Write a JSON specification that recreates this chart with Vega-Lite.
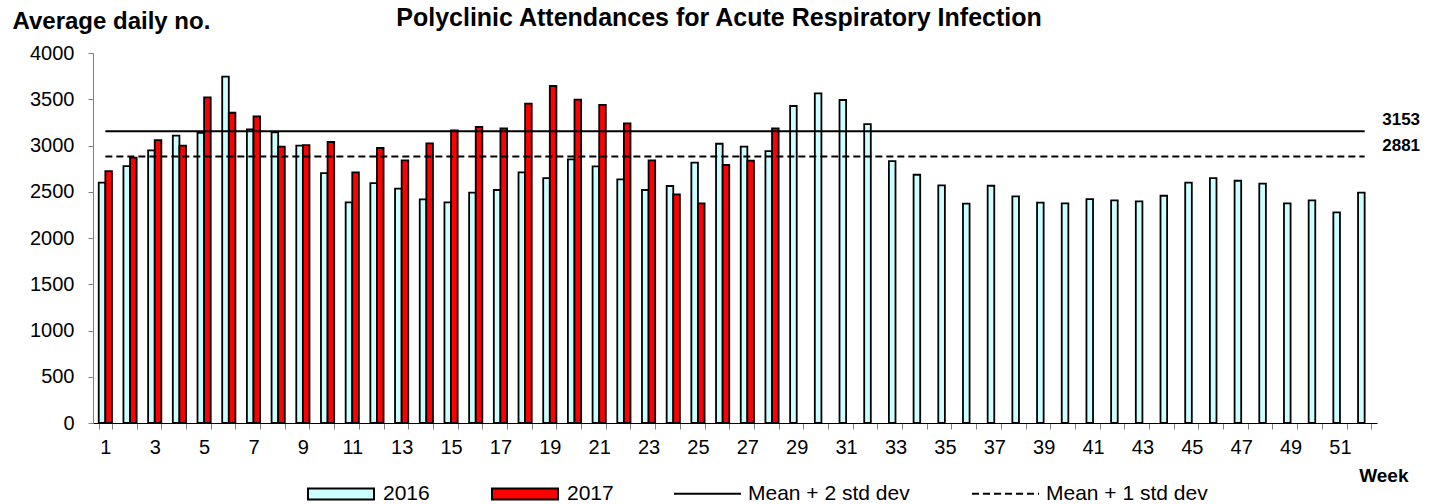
{
  "$schema": "https://vega.github.io/schema/vega-lite/v6.json",
  "width": 1284,
  "height": 370,
  "autosize": {"type": "none"},
  "padding": {"left": 93, "top": 53, "right": 52, "bottom": 81},
  "background": "white",
  "title": {
    "text": "Polyclinic Attendances for Acute Respiratory Infection",
    "font": "Liberation Sans",
    "fontSize": 25,
    "fontWeight": "bold",
    "color": "black",
    "anchor": "middle",
    "frame": "group",
    "offset": 0,
    "dx": -16,
    "dy": 22
  },
  "config": {"view": {"stroke": null}, "font": "Liberation Sans"},
  "datasets": {
    "weekly": [
      {"week": 1, "year": "2016", "value": 2598}, {"week": 1, "year": "2017", "value": 2724},
      {"week": 2, "year": "2016", "value": 2778}, {"week": 2, "year": "2017", "value": 2868},
      {"week": 3, "year": "2016", "value": 2948}, {"week": 3, "year": "2017", "value": 3059},
      {"week": 4, "year": "2016", "value": 3106}, {"week": 4, "year": "2017", "value": 2998},
      {"week": 5, "year": "2016", "value": 3138}, {"week": 5, "year": "2017", "value": 3521},
      {"week": 6, "year": "2016", "value": 3744}, {"week": 6, "year": "2017", "value": 3354},
      {"week": 7, "year": "2016", "value": 3175}, {"week": 7, "year": "2017", "value": 3315},
      {"week": 8, "year": "2016", "value": 3142}, {"week": 8, "year": "2017", "value": 2987},
      {"week": 9, "year": "2016", "value": 2998}, {"week": 9, "year": "2017", "value": 3005},
      {"week": 10, "year": "2016", "value": 2702}, {"week": 10, "year": "2017", "value": 3038},
      {"week": 11, "year": "2016", "value": 2386}, {"week": 11, "year": "2017", "value": 2710},
      {"week": 12, "year": "2016", "value": 2594}, {"week": 12, "year": "2017", "value": 2973},
      {"week": 13, "year": "2016", "value": 2533}, {"week": 13, "year": "2017", "value": 2840},
      {"week": 14, "year": "2016", "value": 2418}, {"week": 14, "year": "2017", "value": 3023},
      {"week": 15, "year": "2016", "value": 2386}, {"week": 15, "year": "2017", "value": 3164},
      {"week": 16, "year": "2016", "value": 2490}, {"week": 16, "year": "2017", "value": 3200},
      {"week": 17, "year": "2016", "value": 2519}, {"week": 17, "year": "2017", "value": 3186},
      {"week": 18, "year": "2016", "value": 2710}, {"week": 18, "year": "2017", "value": 3452},
      {"week": 19, "year": "2016", "value": 2648}, {"week": 19, "year": "2017", "value": 3643},
      {"week": 20, "year": "2016", "value": 2851}, {"week": 20, "year": "2017", "value": 3495},
      {"week": 21, "year": "2016", "value": 2775}, {"week": 21, "year": "2017", "value": 3438},
      {"week": 22, "year": "2016", "value": 2634}, {"week": 22, "year": "2017", "value": 3240},
      {"week": 23, "year": "2016", "value": 2519}, {"week": 23, "year": "2017", "value": 2840},
      {"week": 24, "year": "2016", "value": 2562}, {"week": 24, "year": "2017", "value": 2472},
      {"week": 25, "year": "2016", "value": 2814}, {"week": 25, "year": "2017", "value": 2375},
      {"week": 26, "year": "2016", "value": 3019}, {"week": 26, "year": "2017", "value": 2789},
      {"week": 27, "year": "2016", "value": 2987}, {"week": 27, "year": "2017", "value": 2836},
      {"week": 28, "year": "2016", "value": 2940}, {"week": 28, "year": "2017", "value": 3186},
      {"week": 29, "year": "2016", "value": 3427},
      {"week": 30, "year": "2016", "value": 3564},
      {"week": 31, "year": "2016", "value": 3492},
      {"week": 32, "year": "2016", "value": 3232},
      {"week": 33, "year": "2016", "value": 2832},
      {"week": 34, "year": "2016", "value": 2684},
      {"week": 35, "year": "2016", "value": 2569},
      {"week": 36, "year": "2016", "value": 2371},
      {"week": 37, "year": "2016", "value": 2565},
      {"week": 38, "year": "2016", "value": 2450},
      {"week": 39, "year": "2016", "value": 2382},
      {"week": 40, "year": "2016", "value": 2375},
      {"week": 41, "year": "2016", "value": 2421},
      {"week": 42, "year": "2016", "value": 2407},
      {"week": 43, "year": "2016", "value": 2397},
      {"week": 44, "year": "2016", "value": 2457},
      {"week": 45, "year": "2016", "value": 2598},
      {"week": 46, "year": "2016", "value": 2648},
      {"week": 47, "year": "2016", "value": 2619},
      {"week": 48, "year": "2016", "value": 2587},
      {"week": 49, "year": "2016", "value": 2375},
      {"week": 50, "year": "2016", "value": 2407},
      {"week": 51, "year": "2016", "value": 2278},
      {"week": 52, "year": "2016", "value": 2490}
    ],
    "thresholds": [
      {"series": "Mean + 2 std dev", "value": 3153, "week": 1, "endWeek": 52},
      {"series": "Mean + 1 std dev", "value": 2881, "week": 1, "endWeek": 52}
    ]
  },
  "layer": [
    {
      "data": {"name": "weekly"},
      "mark": {"type": "bar", "stroke": "black", "strokeWidth": 1.8},
      "encoding": {
        "x": {
          "field": "week",
          "type": "ordinal",
          "scale": {"paddingInner": 0.465, "paddingOuter": 0.2325},
          "axis": {
            "title": "Week",
            "titleX": 1315,
            "titleY": 58,
            "titleAlign": "right",
            "titleBaseline": "alphabetic",
            "titleFontSize": 19,
            "titleFontWeight": "bold",
            "titleColor": "black",
            "titleFont": "Liberation Sans",
            "labelAngle": 0,
            "labelExpr": "datum.value % 2 == 1 ? datum.label : ''",
            "labelOverlap": false,
            "tickBand": "extent",
            "tickSize": 6,
            "tickColor": "#808080",
            "domainColor": "black",
            "labelFontSize": 20,
            "labelFont": "Liberation Sans",
            "labelColor": "black",
            "labelPadding": 8
          }
        },
        "xOffset": {
          "field": "year",
          "type": "nominal",
          "scale": {"domain": ["2016", "2017"], "paddingInner": 0, "paddingOuter": 0}
        },
        "y": {
          "field": "value",
          "type": "quantitative",
          "scale": {"domain": [0, 4000], "nice": false},
          "axis": {
            "title": "Average daily no.",
            "titleAngle": 0,
            "titleAlign": "left",
            "titleBaseline": "alphabetic",
            "titleX": -81,
            "titleY": -25,
            "titleFontSize": 24,
            "titleFontWeight": "bold",
            "titleColor": "black",
            "titleFont": "Liberation Sans",
            "values": [0, 500, 1000, 1500, 2000, 2500, 3000, 3500, 4000],
            "format": "d",
            "grid": false,
            "tickSize": 5,
            "tickColor": "#808080",
            "domainColor": "#808080",
            "labelFontSize": 20,
            "labelFont": "Liberation Sans",
            "labelColor": "black",
            "labelPadding": 14
          }
        },
        "fill": {
          "field": "year",
          "type": "nominal",
          "scale": {"domain": ["2016", "2017"], "range": ["#CCFFFF", "#FF0000"]},
          "legend": {
            "orient": "none",
            "legendX": 214,
            "legendY": 407,
            "direction": "horizontal",
            "title": null,
            "symbolType": "M-1,-0.167H1V0.167H-1Z",
            "symbolSize": 4356,
            "symbolStrokeColor": "black",
            "symbolStrokeWidth": 2,
            "symbolOpacity": 1,
            "labelFontSize": 21,
            "labelFont": "Liberation Sans",
            "labelColor": "black",
            "labelLimit": 400,
            "labelOffset": 8,
            "columnPadding": 58
          }
        }
      }
    },
    {
      "data": {"name": "thresholds"},
      "mark": {"type": "rule", "strokeWidth": 2, "color": "black"},
      "encoding": {
        "x": {"field": "week", "type": "ordinal"},
        "x2": {"field": "endWeek"},
        "y": {"field": "value", "type": "quantitative"},
        "strokeDash": {
          "field": "series",
          "type": "nominal",
          "scale": {"domain": ["Mean + 2 std dev", "Mean + 1 std dev"], "range": [[1, 0], [7, 4]]},
          "legend": {
            "orient": "none",
            "legendX": 580,
            "legendY": 406,
            "direction": "horizontal",
            "title": null,
            "symbolType": "stroke",
            "symbolSize": 4489,
            "symbolStrokeWidth": 2,
            "symbolStrokeColor": "black",
            "labelFontSize": 21,
            "labelFont": "Liberation Sans",
            "labelColor": "black",
            "labelLimit": 400,
            "labelOffset": 6,
            "columnPadding": 58
          }
        }
      }
    },
    {
      "data": {"name": "thresholds"},
      "mark": {"type": "text", "align": "left", "baseline": "middle", "dx": 11, "dy": -11, "fontWeight": "bold", "fontSize": 17, "font": "Liberation Sans", "color": "black"},
      "encoding": {
        "x": {"field": "endWeek", "type": "ordinal", "bandPosition": 1},
        "y": {"field": "value", "type": "quantitative"},
        "text": {"field": "value", "type": "quantitative", "format": "d"}
      }
    }
  ]
}
